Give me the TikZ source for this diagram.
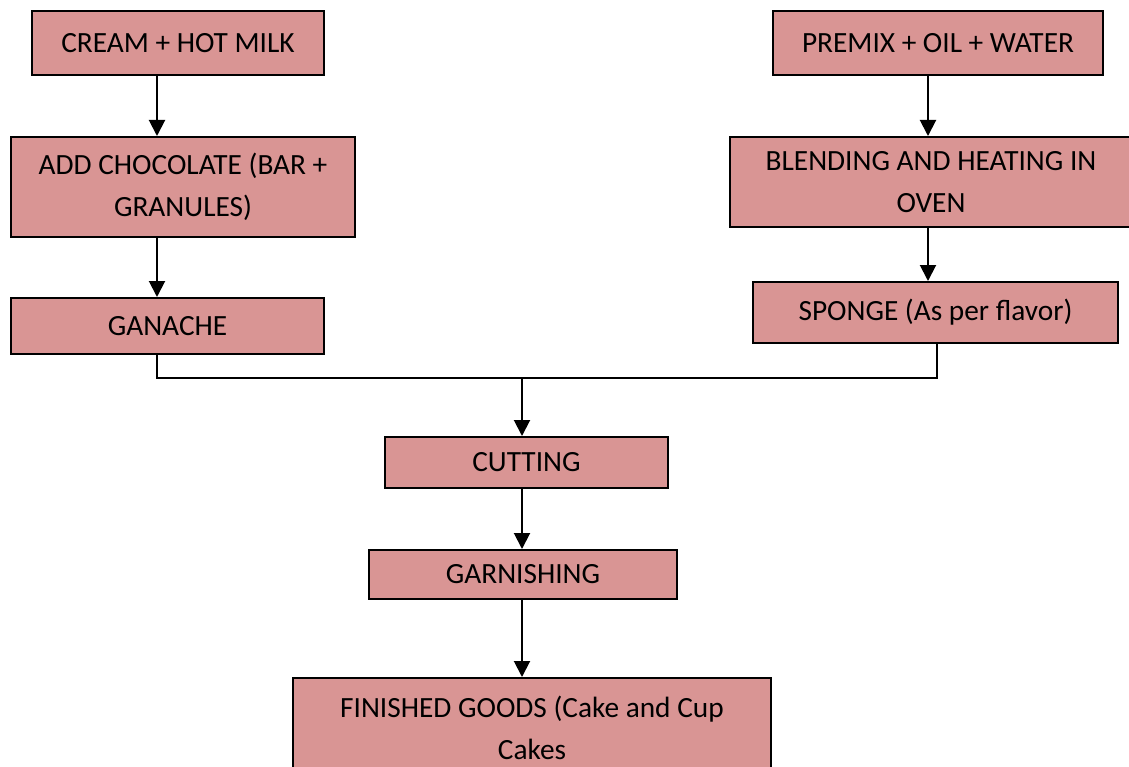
\documentclass[tikz,border=0pt]{standalone}
\usepackage{fontspec}
\setmainfont{Carlito}
\usepackage{xcolor}
\usetikzlibrary{arrows.meta}
\definecolor{boxpink}{HTML}{D99594}

\tikzset{
  stepbox/.style={draw=black, fill=boxpink, line width=1.5pt, inner sep=0pt,
    align=center, font=\fontsize{22}{31.5}\selectfont},
  flow/.style={line width=1.5pt, -{Triangle[width=12pt,length=12pt]}},
  joinline/.style={line width=1pt}
}

\begin{document}
\begin{tikzpicture}[x=0.75pt,y=-0.75pt]
  \useasboundingbox (0,0) rectangle (1129,767);

  % Columns of the connectors
  \coordinate (lx) at (157,0);
  \coordinate (rx) at (928,0);
  \coordinate (sx) at (937,0);
  \coordinate (merge) at (522,378);

  % Left branch
  \node[stepbox, minimum width=219pt, minimum height=48pt] (cream) at (178,43) {CREAM + HOT MILK};
  \node[stepbox, minimum width=258pt, minimum height=75pt] (choc) at (183,187) {ADD CHOCOLATE (BAR +\\GRANULES)};
  \node[stepbox, minimum width=234.75pt, minimum height=42pt] (ganache) at (167.5,326) {GANACHE};

  % Right branch
  \node[stepbox, minimum width=247.5pt, minimum height=48pt] (premix) at (938,43) {PREMIX + OIL + WATER};
  \node[stepbox, minimum width=301.5pt, minimum height=67.5pt] (blend) at (931,182) {BLENDING AND HEATING IN\\OVEN};
  \node[stepbox, minimum width=273.75pt, minimum height=45.75pt] (sponge) at (935.5,312.5) {SPONGE (As per flavor)};

  % Common steps
  \node[stepbox, minimum width=212.25pt, minimum height=38.25pt] (cutting) at (526.5,462.5) {CUTTING};
  \node[stepbox, minimum width=231pt, minimum height=36.75pt] (garnish) at (523,574.5) {GARNISHING};
  \node[stepbox, minimum width=358.5pt, minimum height=75pt] (finished) at (532,728) {FINISHED GOODS (Cake and Cup\\Cakes};

  % Arrows
  \draw[flow] (lx |- cream.south) -- (lx |- choc.north);
  \draw[flow] (lx |- choc.south) -- (lx |- ganache.north);
  \draw[flow] (rx |- premix.south) -- (rx |- blend.north);
  \draw[flow] (rx |- blend.south) -- (rx |- sponge.north);

  % Joining the two branches
  \draw[joinline] (lx |- ganache.south) |- (merge) -| (sx |- sponge.south);
  \draw[flow] (merge) -- (merge |- cutting.north);
  \draw[flow] (merge |- cutting.south) -- (merge |- garnish.north);
  \draw[flow] (merge |- garnish.south) -- (merge |- finished.north);
\end{tikzpicture}
\end{document}
